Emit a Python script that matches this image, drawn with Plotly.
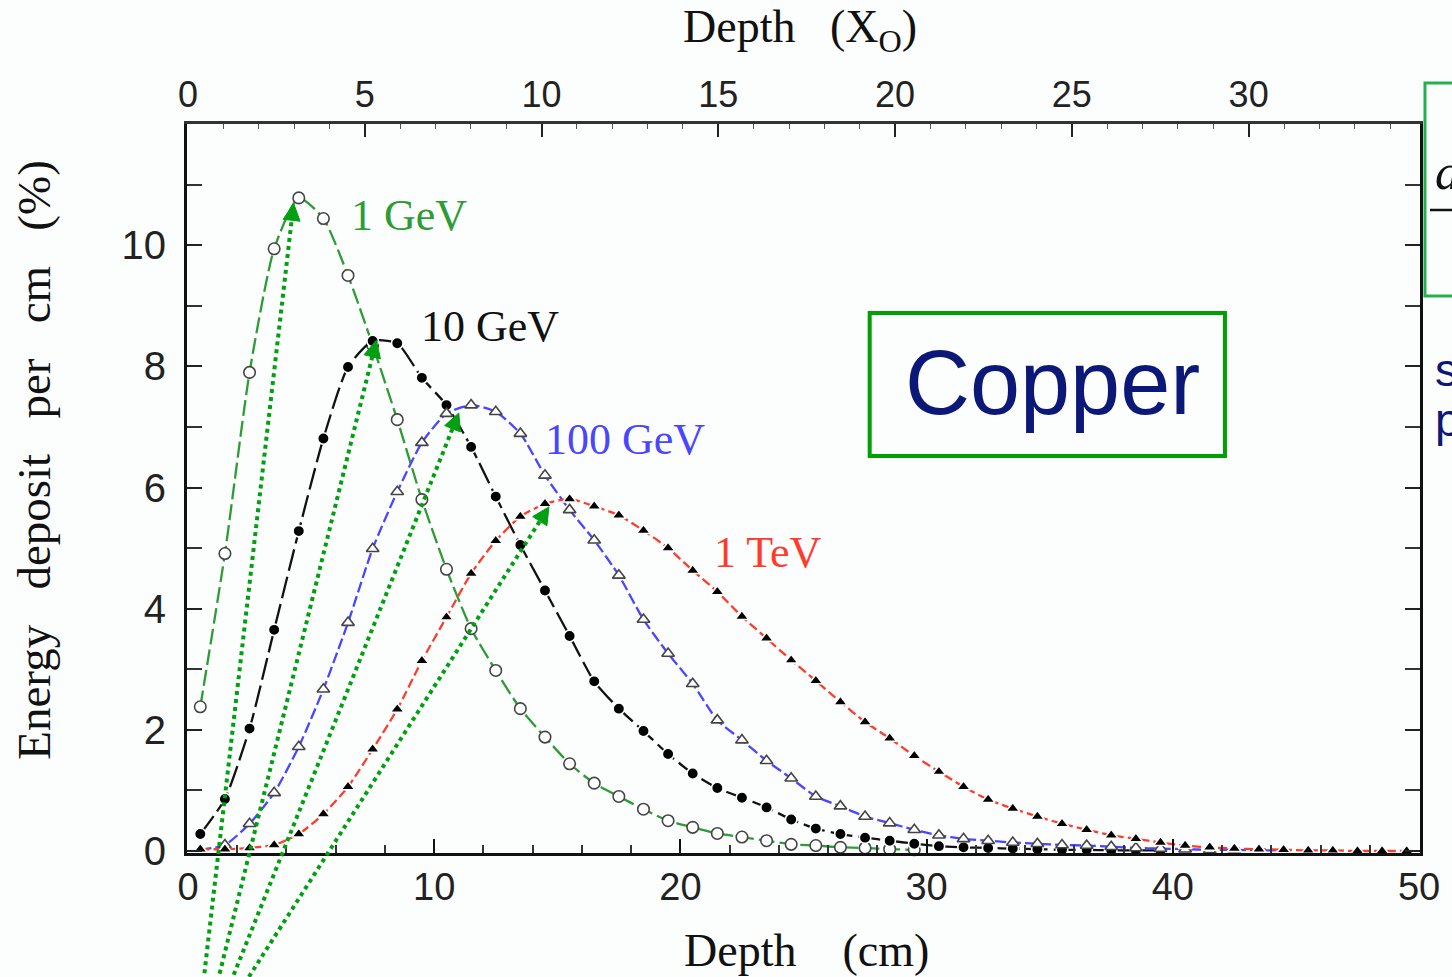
import plotly.graph_objects as go

# ---------------- data ----------------
depth_1gev = [0.5, 1.5, 2.5, 3.5, 4.5, 5.5, 6.5, 7.5, 8.5, 9.5, 10.5, 11.5, 12.5, 13.5, 14.5,
              15.5, 16.5, 17.5, 18.5, 19.5, 20.5, 21.5, 22.5, 23.5, 24.5, 25.5, 26.5, 27.5, 28.5, 29.5]
edep_1gev = [2.38, 4.91, 7.90, 9.94, 10.78, 10.44, 9.50, 8.35, 7.12, 5.80, 4.65, 3.67, 2.98, 2.35, 1.88,
             1.44, 1.12, 0.90, 0.69, 0.50, 0.39, 0.29, 0.23, 0.17, 0.11, 0.09, 0.06, 0.05, 0.03, 0.02]

depth_10gev = [0.5, 1.5, 2.5, 3.5, 4.5, 5.5, 6.5, 7.5, 8.5, 9.5, 10.5, 11.5, 12.5, 13.5, 14.5,
               15.5, 16.5, 17.5, 18.5, 19.5, 20.5, 21.5, 22.5, 23.5, 24.5, 25.5, 26.5, 27.5, 28.5, 29.5,
               30.5, 31.5, 32.5, 33.5, 34.5, 35.5, 36.5, 37.5, 38.5, 39.5]
edep_10gev = [0.28, 0.86, 2.02, 3.65, 5.28, 6.81, 7.99, 8.42, 8.38, 7.81, 7.36, 6.67, 5.85, 5.05, 4.30,
              3.55, 2.80, 2.35, 1.98, 1.60, 1.28, 1.04, 0.88, 0.72, 0.52, 0.37, 0.28, 0.22, 0.17, 0.12,
              0.08, 0.06, 0.05, 0.04, 0.03, 0.02, 0.02, 0.01, 0.01, 0.01]

depth_100gev = [0.5, 1.5, 2.5, 3.5, 4.5, 5.5, 6.5, 7.5, 8.5, 9.5, 10.5, 11.5, 12.5, 13.5, 14.5,
                15.5, 16.5, 17.5, 18.5, 19.5, 20.5, 21.5, 22.5, 23.5, 24.5, 25.5, 26.5, 27.5, 28.5, 29.5,
                30.5, 31.5, 32.5, 33.5, 34.5, 35.5, 36.5, 37.5, 38.5, 39.5, 40.5, 41.5, 42.5, 43.5, 44.5]
edep_100gev = [0.02, 0.10, 0.45, 0.96, 1.72, 2.67, 3.77, 4.99, 5.93, 6.74, 7.22, 7.36, 7.25, 6.89, 6.20,
               5.63, 5.13, 4.55, 3.82, 3.26, 2.76, 2.16, 1.83, 1.49, 1.20, 0.90, 0.74, 0.57, 0.46, 0.35,
               0.26, 0.20, 0.17, 0.14, 0.12, 0.10, 0.09, 0.07, 0.05, 0.04, 0.03, 0.02, 0.02, 0.01, 0.01]

depth_1tev = [0.5, 1.5, 2.5, 3.5, 4.5, 5.5, 6.5, 7.5, 8.5, 9.5, 10.5, 11.5, 12.5, 13.5, 14.5,
              15.5, 16.5, 17.5, 18.5, 19.5, 20.5, 21.5, 22.5, 23.5, 24.5, 25.5, 26.5, 27.5, 28.5, 29.5,
              30.5, 31.5, 32.5, 33.5, 34.5, 35.5, 36.5, 37.5, 38.5, 39.5, 40.5, 41.5, 42.5, 43.5, 44.5,
              45.5, 46.5, 47.5, 48.5, 49.5]
edep_1tev = [0.03, 0.03, 0.05, 0.10, 0.28, 0.61, 1.06, 1.68, 2.34, 3.14, 3.86, 4.58, 5.12, 5.52, 5.73,
             5.81, 5.69, 5.54, 5.29, 5.00, 4.63, 4.28, 3.87, 3.51, 3.15, 2.81, 2.46, 2.13, 1.86, 1.57,
             1.31, 1.06, 0.85, 0.70, 0.57, 0.45, 0.35, 0.26, 0.20, 0.14, 0.09, 0.06, 0.04, 0.03, 0.02,
             0.01, 0.01, 0.00, 0.00, 0.00]

curve_labels = ["1 GeV", "10 GeV", "100 GeV", "1 TeV"]
label_x = [8.97, 12.25, 17.75, 23.56]
label_y = [10.49, 8.65, 6.80, 4.93]

# green dotted arrows: tip (near shower maximum) and tail (below the axis)
arrow_tip_x = [4.29, 7.65, 11.00, 14.66]
arrow_tip_y = [10.69, 8.43, 7.23, 5.68]
arrow_tail_x = [0.65, 1.25, 1.82, 2.47]
arrow_tail_y = [-2.08, -2.08, -2.08, -2.08]

cm_ticks = [0, 10, 20, 30, 40, 50]
x0_ticks = [0, 5, 10, 15, 20, 25, 30]
y_ticks = [0, 2, 4, 6, 8, 10]
CM_PER_X0 = 1.436  # radiation length of copper

# ---------------- geometry ----------------
W, H = 1452, 977
ML, MR, MT, MB = 187, 26, 124, 124
PW, PH = W - ML - MR, H - MT - MB
X_RANGE = [-0.04, 50.04]
Y_RANGE = [-0.033, 12.0]

GREEN_ARROW = "#00a010"
C1, C2, C3, C4 = "#2e9b35", "#111111", "#4a46ff", "#ff3c2c"
NAVY = "#0c1878"
SERIF = "Liberation Serif, Times New Roman, serif"
SANS = "Liberation Sans, Arial, sans-serif"


def d2p(x, y):
    """data -> pixel"""
    px = ML + (x - X_RANGE[0]) / (X_RANGE[1] - X_RANGE[0]) * PW
    py = MT + PH - (y - Y_RANGE[0]) / (Y_RANGE[1] - Y_RANGE[0]) * PH
    return px, py


def p2paper(px, py):
    return (px - ML) / PW, (H - MB - py) / PH


fig = go.Figure()

series = [
    (depth_1gev, edep_1gev, C1, "16px,5px", "circle", "white", "#444444", 11.5),
    (depth_10gev, edep_10gev, C2, "22px,6px", "circle", "black", "white", 11.5),
    (depth_100gev, edep_100gev, C3, "11px,4px", "triangle-up", "white", "#444444", 11),
    (depth_1tev, edep_1tev, C4, "9px,4px", "triangle-up", "black", "white", 12),
]
for xs, ys, col, dash, sym, fill, edge, size in series:
    fig.add_trace(go.Scatter(
        x=xs, y=ys, mode="lines+markers", cliponaxis=False,
        line=dict(color=col, width=2.3, dash=dash, shape="spline", smoothing=0.6),
        marker=dict(symbol=sym, size=size, color=fill, line=dict(color=edge, width=1.6)),
        hoverinfo="skip", showlegend=False,
    ))

# invisible carrier trace so the top (radiation length) axis is drawn
fig.add_trace(go.Scatter(x=x0_ticks, y=[None] * len(x0_ticks), xaxis="x2", yaxis="y",
                         mode="markers", hoverinfo="skip", showlegend=False))

annotations = []
shapes = []

# curve labels
for txt, lx, ly, col in zip(curve_labels, label_x, label_y, [C1, C2, C3, C4]):
    annotations.append(dict(x=lx, y=ly, xref="x", yref="y", text=txt, showarrow=False,
                            font=dict(family=SERIF, size=44, color=col),
                            xanchor="center", yanchor="middle"))

# dotted green arrows with filled triangular heads
HEAD_LEN, HEAD_HALF = 17, 8.5
for tx, ty, sx, sy in zip(arrow_tip_x, arrow_tip_y, arrow_tail_x, arrow_tail_y):
    tpx, tpy = d2p(tx, ty)
    spx, spy = d2p(sx, sy)
    dx, dy = spx - tpx, spy - tpy
    L = (dx * dx + dy * dy) ** 0.5
    ux, uy = dx / L, dy / L
    k = (H + 20 - tpy) / dy
    epx, epy = tpx + dx * k, tpy + dy * k
    bpx, bpy = tpx + ux * (HEAD_LEN - 2), tpy + uy * (HEAD_LEN - 2)
    a0 = p2paper(epx, epy)
    a1 = p2paper(bpx, bpy)
    shapes.append(dict(type="line", xref="paper", yref="paper", x0=a0[0], y0=a0[1], x1=a1[0], y1=a1[1],
                       line=dict(color=GREEN_ARROW, width=4, dash="dot"), layer="above"))
    hx, hy = tpx + ux * HEAD_LEN, tpy + uy * HEAD_LEN
    p_tip = p2paper(tpx, tpy)
    p_l = p2paper(hx - uy * HEAD_HALF, hy + ux * HEAD_HALF)
    p_r = p2paper(hx + uy * HEAD_HALF, hy - ux * HEAD_HALF)
    path = "M {:.5f},{:.5f} L {:.5f},{:.5f} L {:.5f},{:.5f} Z".format(
        p_tip[0], p_tip[1], p_l[0], p_l[1], p_r[0], p_r[1])
    shapes.append(dict(type="path", xref="paper", yref="paper", path=path,
                       fillcolor=GREEN_ARROW, line=dict(color=GREEN_ARROW, width=1), layer="above"))

# axis titles
NB = "\u00a0"
pt = p2paper(803, 30)
annotations.append(dict(x=pt[0], y=pt[1], xref="paper", yref="paper", showarrow=False,
                        text="Depth" + NB * 3 + "(X<sub>O</sub>)",
                        font=dict(family=SERIF, size=46, color="#111"), xanchor="center", yanchor="middle"))
pt = p2paper(810, 950)
annotations.append(dict(x=pt[0], y=pt[1], xref="paper", yref="paper", showarrow=False,
                        text="Depth" + NB * 4 + "(cm)",
                        font=dict(family=SERIF, size=46, color="#111"), xanchor="center", yanchor="middle"))
pt = p2paper(33, 460)
annotations.append(dict(x=pt[0], y=pt[1], xref="paper", yref="paper", showarrow=False, textangle=-90,
                        text=("Energy" + NB * 3 + "deposit" + NB * 3 + "per" + NB * 3 + "cm" + NB * 3 + "(%)"),
                        font=dict(family=SERIF, size=47, color="#111"), xanchor="center", yanchor="middle"))

# Copper box
b0 = p2paper(873, 456)
b1 = p2paper(1230, 313)
shapes.append(dict(type="rect", xref="paper", yref="paper", x0=b0[0], y0=b0[1], x1=b1[0], y1=b1[1],
                   line=dict(color="#00a000", width=4), fillcolor="rgba(255,255,255,0)", layer="above"))
pt = p2paper(1057, 383)
annotations.append(dict(x=pt[0], y=pt[1], xref="paper", yref="paper", showarrow=False, text="Copper",
                        font=dict(family=SANS, size=90, color=NAVY), xanchor="center", yanchor="middle"))

# fragments of neighbouring slide content at the right edge
r0 = p2paper(1431, 296)
r1 = p2paper(1500, 83)
shapes.append(dict(type="rect", xref="paper", yref="paper", x0=r0[0], y0=r0[1], x1=r1[0], y1=r1[1],
                   line=dict(color="#22b14c", width=3), fillcolor="rgba(255,255,255,0)", layer="above"))
f0 = p2paper(1436, 210)
f1 = p2paper(1470, 210)
shapes.append(dict(type="line", xref="paper", yref="paper", x0=f0[0], y0=f0[1], x1=f1[0], y1=f1[1],
                   line=dict(color="#111", width=2.5), layer="above"))
pt = p2paper(1439, 172)
annotations.append(dict(x=pt[0], y=pt[1], xref="paper", yref="paper", showarrow=False, text="<i>d</i>",
                        font=dict(family=SERIF, size=50, color="#111"), xanchor="left", yanchor="middle"))
pt = p2paper(1439, 370)
annotations.append(dict(x=pt[0], y=pt[1], xref="paper", yref="paper", showarrow=False, text="s",
                        font=dict(family=SANS, size=46, color=NAVY), xanchor="left", yanchor="middle"))
pt = p2paper(1439, 420)
annotations.append(dict(x=pt[0], y=pt[1], xref="paper", yref="paper", showarrow=False, text="p",
                        font=dict(family=SANS, size=46, color=NAVY), xanchor="left", yanchor="middle"))

fig.update_layout(
    width=W, height=H, autosize=False,
    margin=dict(l=ML, r=MR, t=MT, b=MB, pad=0),
    paper_bgcolor="#fcfefe", plot_bgcolor="#fcfefe",
    showlegend=False,
    annotations=annotations, shapes=shapes,
    xaxis=dict(range=X_RANGE, tickmode="array", tickvals=cm_ticks, ticks="inside", ticklen=14,
               tickwidth=2, tickcolor="#111", showline=True, linewidth=3, linecolor="#111",
               mirror=False, showgrid=False, zeroline=False, ticklabelstandoff=-2,
               tickfont=dict(family=SANS, size=38, color="#222"),
               minor=dict(dtick=2, tick0=0, ticks="inside", ticklen=8, tickwidth=1.5, tickcolor="#333")),
    xaxis2=dict(range=[X_RANGE[0] / CM_PER_X0, X_RANGE[1] / CM_PER_X0], overlaying="x", side="top",
                anchor="y", tickmode="array", tickvals=x0_ticks, ticks="inside", ticklen=13, tickwidth=2,
                tickcolor="#222", showline=True, linewidth=3, linecolor="#333", showgrid=False,
                zeroline=False, ticklabelstandoff=0,
                tickfont=dict(family=SANS, size=36, color="#222"),
                minor=dict(dtick=1, tick0=0, ticks="inside", ticklen=5, tickwidth=1, tickcolor="#555")),
    yaxis=dict(range=Y_RANGE, tickmode="array", tickvals=y_ticks, ticks="inside", ticklen=15,
               tickwidth=2, tickcolor="#222", showline=True, linewidth=3, linecolor="#111",
               mirror="ticks", showgrid=False, zeroline=False, ticklabelstandoff=10,
               tickfont=dict(family=SANS, size=40, color="#222"),
               minor=dict(dtick=1, tick0=0, ticks="inside", ticklen=15, tickwidth=2, tickcolor="#333")),
)

fig.write_html("out.html", config={"displayModeBar": False},
               post_script="document.body.style.margin='0';document.body.style.overflow='hidden';")
